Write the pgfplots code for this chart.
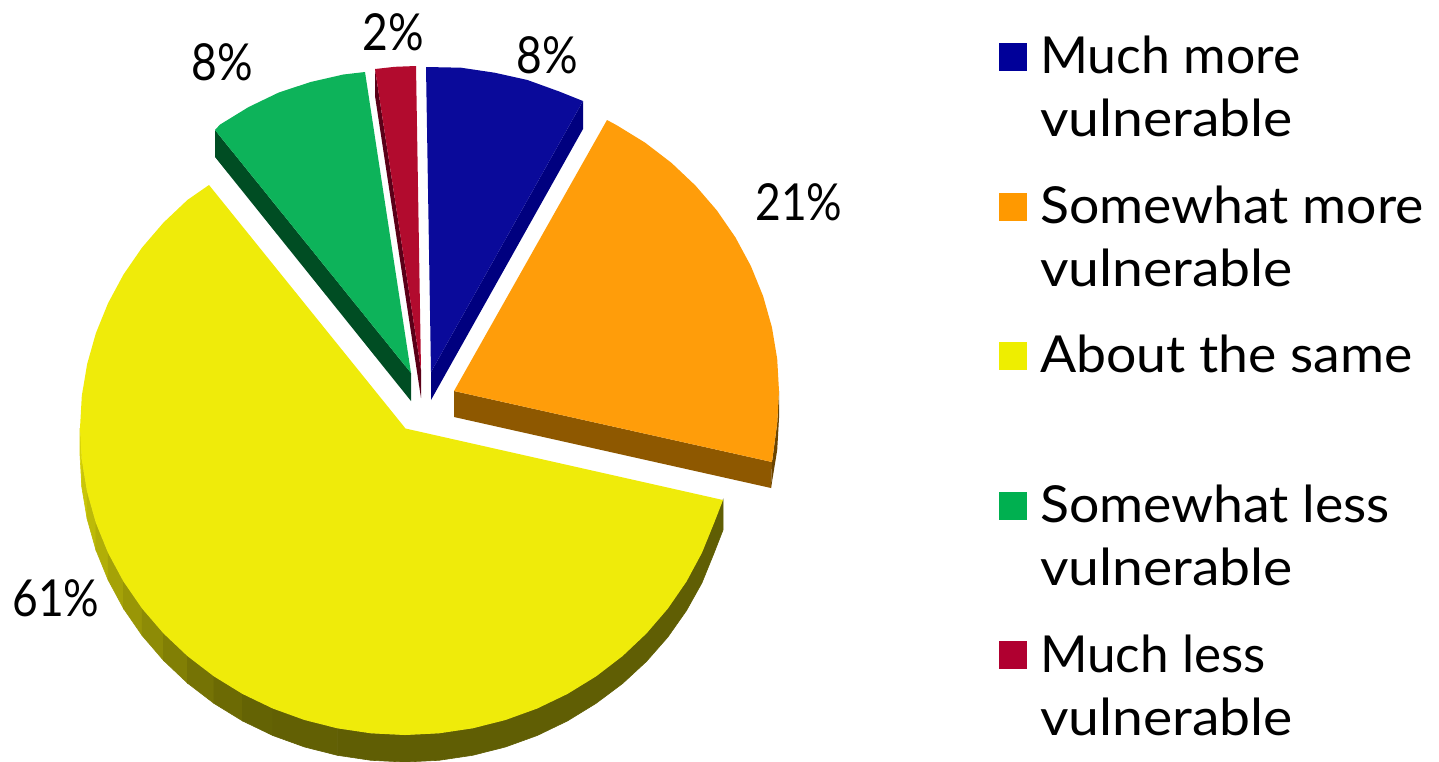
\documentclass[border=0pt]{standalone}
\usepackage{fontspec}
\setmainfont[FakeStretch=1.05]{Lato}
\newfontfamily\pct[FakeStretch=0.87]{Lato}
\usepackage{pgfplots}
\pgfplotsset{compat=1.18}
\definecolor{bluetop}{HTML}{0A0A9A}\definecolor{blueside}{HTML}{00007F}
\definecolor{orgtop}{HTML}{FF9D0A}\definecolor{orgside}{HTML}{8E5800}\definecolor{orgrim}{HTML}{6B4400}
\definecolor{yeltop}{HTML}{EFEB0A}
\definecolor{grntop}{HTML}{0DB35A}\definecolor{grnside}{HTML}{004D23}
\definecolor{redtop}{HTML}{B20B2E}\definecolor{redside}{HTML}{5A0018}
\definecolor{lgblue}{HTML}{000099}\definecolor{lgorg}{HTML}{FF9900}\definecolor{lgyel}{HTML}{EEEE00}\definecolor{lggrn}{HTML}{00B050}\definecolor{lgred}{HTML}{B00030}
\newcommand{\lab}[1]{\fontsize{51}{60}\selectfont #1}
\newcommand{\plab}[1]{\fontsize{51}{60}\selectfont\pct #1}
\newcommand{\band}[2]{\addplot[fill=yeltop!#1!black,draw=yeltop!#1!black,line width=.6pt] coordinates {#2} --cycle;}
\begin{document}
\begin{tikzpicture}
\path (0,0) rectangle (1439pt,761pt);
\begin{axis}[at={(0,0)},anchor=south west,scale only axis,width=1439pt,height=761pt,xmin=0,xmax=1439,ymin=0,ymax=761,y dir=reverse,hide axis,clip=true]
% yellow side bands
\band{90}{(80,428)(81.8,460.1)(81.8,487.1)(80,455)}
\band{84}{(81.8,460.1)(87.1,491.8)(87.1,518.8)(81.8,487.1)}
\band{79}{(87.1,491.8)(95.9,522.9)(95.9,549.9)(87.1,518.8)}
\band{74}{(95.9,522.9)(108.1,552.9)(108.1,579.9)(95.9,549.9)}
\band{69}{(108.1,552.9)(123.5,581.5)(123.5,608.5)(108.1,579.9)}
\band{64}{(123.5,581.5)(142.1,608.5)(142.1,635.5)(123.5,608.5)}
\band{59}{(142.1,608.5)(163.5,633.4)(163.5,660.4)(142.1,635.5)}
\band{54}{(163.5,633.4)(187.5,656.1)(187.5,683.1)(163.5,660.4)}
\band{49}{(187.5,656.1)(214,676.4)(214,703.4)(187.5,683.1)}
\band{45}{(214,676.4)(242.5,693.9)(242.5,720.9)(214,703.4)}
\band{42}{(242.5,693.9)(272.8,708.5)(272.8,735.5)(242.5,720.9)}
\band{41}{(272.8,708.5)(304.6,720)(337.4,728.3)(337.4,755.3)(304.6,747)(272.8,735.5)}
\band{40}{(337.4,728.3)(371,733.3)(405,735)(439,733.3)(472.6,728.3)(505.4,720)(537.2,708.5)(567.5,693.9)(596,676.4)(622.5,656.1)(646.5,633.4)(667.9,608.5)(686.5,581.5)(701.9,552.9)(714.1,522.9)(723,500)(723,530)(714.1,552.9)(701.9,582.9)(686.5,610.5)(667.9,637)(646.5,661.4)(622.5,683.6)(596,703.4)(567.5,720.9)(537.2,735.5)(505.4,747)(472.6,755.3)(439,760.3)(405,762)(371,760.3)(337.4,755.3)}
% yellow top
\addplot[fill=yeltop,draw=none] coordinates {(405.5,428.5)(209,185)(187.5,199.9)(163.5,222.6)(142.1,247.5)(123.5,274.5)(108.1,303.1)(95.9,333.1)(87.1,364.2)(81.8,395.9)(80,428)(81.8,460.1)(87.1,491.8)(95.9,522.9)(108.1,552.9)(123.5,581.5)(142.1,608.5)(163.5,633.4)(187.5,656.1)(214,676.4)(242.5,693.9)(272.8,708.5)(304.6,720)(337.4,728.3)(371,733.3)(405,735)(439,733.3)(472.6,728.3)(505.4,720)(537.2,708.5)(567.5,693.9)(596,676.4)(622.5,656.1)(646.5,633.4)(667.9,608.5)(686.5,581.5)(701.9,552.9)(714.1,522.9)(723,500)} --cycle;
% orange
\addplot[fill=orgside,draw=none] coordinates {(454,391)(772,462)(771,488)(454,417)} --cycle;
\addplot[fill=orgrim,draw=none] coordinates {(779,391)(777.2,423.1)(772,462)(771,488)(777.2,450.1)(779,418)} --cycle;
\addplot[fill=orgtop,draw=none] coordinates {(454,391)(607,120)(616.5,125.1)(645,142.6)(671.5,162.9)(695.5,185.6)(716.9,210.5)(735.5,237.5)(750.9,266.1)(763.1,296.1)(771.9,327.2)(777.2,358.9)(779,391)(777.2,423.1)(772,462)} --cycle;
% blue
\addplot[fill=blueside,draw=none] coordinates {(583,101)(583,129)(431,400)(431,372)} --cycle;
\addplot[fill=bluetop,draw=none] coordinates {(431,372)(426,67)(461,67.7)(494.6,72.7)(527.4,80)(559.2,91.5)(583,101)} --cycle;
% red
\addplot[fill=redside,draw=none] coordinates {(375,69)(421,370)(421,398)(375,96)} --cycle;
\addplot[fill=redtop,draw=none] coordinates {(421,370)(375,69)(395,66.8)(416,66)} --cycle;
% green
\addplot[fill=grnside,draw=none] coordinates {(215,130)(215,157)(411,401)(411,373)} --cycle;
\addplot[fill=grntop,draw=none] coordinates {(411,373)(215,130)(220,124.6)(248.5,107.1)(278.8,92.5)(310.6,82)(343.4,74.5)(365,72)} --cycle;
% legend keys
\addplot[fill=lgblue,draw=none] coordinates {(999,43)(1027,43)(1027,71)(999,71)} --cycle;
\addplot[fill=lgorg,draw=none] coordinates {(999,193)(1027,193)(1027,221)(999,221)} --cycle;
\addplot[fill=lgyel,draw=none] coordinates {(999,342)(1027,342)(1027,370)(999,370)} --cycle;
\addplot[fill=lggrn,draw=none] coordinates {(999,492)(1027,492)(1027,520)(999,520)} --cycle;
\addplot[fill=lgred,draw=none] coordinates {(999,641)(1027,641)(1027,669)(999,669)} --cycle;
% labels
\node[anchor=center,inner sep=0pt] at (axis cs:547,55) {\plab{8\%}};
\node[anchor=center,inner sep=0pt] at (axis cs:393,32) {\plab{2\%}};
\node[anchor=center,inner sep=0pt] at (axis cs:222,62) {\plab{8\%}};
\node[anchor=center,inner sep=0pt] at (axis cs:799,202) {\plab{21\%}};
\node[anchor=center,inner sep=0pt] at (axis cs:56,598) {\plab{61\%}};
\node[anchor=base west,inner sep=0pt,xscale=.966] at (axis cs:1040,73) {\lab{Much more}};
\node[anchor=base west,inner sep=0pt,xscale=1.033] at (axis cs:1040,136) {\lab{vulnerable}};
\node[anchor=base west,inner sep=0pt] at (axis cs:1040,223) {\lab{Somewhat more}};
\node[anchor=base west,inner sep=0pt,xscale=1.033] at (axis cs:1040,286) {\lab{vulnerable}};
\node[anchor=base west,inner sep=0pt] at (axis cs:1040,372) {\lab{About the same}};
\node[anchor=base west,inner sep=0pt] at (axis cs:1040,522) {\lab{Somewhat less}};
\node[anchor=base west,inner sep=0pt,xscale=1.033] at (axis cs:1040,585) {\lab{vulnerable}};
\node[anchor=base west,inner sep=0pt,xscale=.957] at (axis cs:1040,672) {\lab{Much less}};
\node[anchor=base west,inner sep=0pt,xscale=1.033] at (axis cs:1040,735) {\lab{vulnerable}};
\end{axis}
\end{tikzpicture}
\end{document}
